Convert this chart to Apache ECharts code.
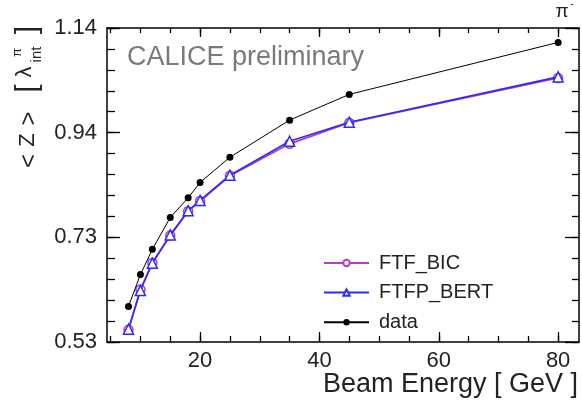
<!DOCTYPE html>
<html>
<head>
<meta charset="utf-8">
<script src="https://cdn.jsdelivr.net/npm/echarts@6/dist/echarts.min.js"></script>
<style>
  html, body { margin: 0; padding: 0; background: #fff; }
  #chart { width: 582px; height: 406px; }
</style>
</head>
<body>
<div id="chart"></div>
<script>
// beam energies [GeV]
const energies = [8, 10, 12, 15, 18, 20, 25, 35, 45, 80]
// mean shower start <Z> in units of lambda_int
const dataZ = [0.599, 0.661, 0.710, 0.772, 0.810, 0.840, 0.889, 0.961, 1.011, 1.112]
const ftfpBertZ = [0.555, 0.630, 0.683, 0.738, 0.785, 0.805, 0.854, 0.920, 0.957, 1.045]
const ftfBicZ = [0.554, 0.632, 0.684, 0.737, 0.784, 0.804, 0.853, 0.915, 0.956, 1.043]

const xMajor = [20, 40, 60, 80]
const xMinor = [5, 10, 15, 20, 25, 30, 35, 40, 45, 50, 55, 60, 65, 70, 75, 80]
const yMin = 0.53
const yMax = 1.14
const xMin = 4.4
const xMax = 83.5

const yStep = (yMax - yMin) / 3
const yMajor = [0, 1, 2, 3].map(i => yMin + i * yStep)
const yMinor = []
for (let i = 0; i <= 15; i++) yMinor.push(yMin + i * yStep / 5)

const font = 'Liberation Sans, Arial, Helvetica, sans-serif'
const chart = echarts.init(document.getElementById('chart'))

const pairs = arr => energies.map((e, i) => [e, arr[i]])

function xAxisDef (position, ticks, len, showLabel, showLine) {
  return {
    type: 'value', position: position, min: xMin, max: xMax,
    axisLine: { show: showLine, onZero: false, lineStyle: { color: '#000', width: 1.5 } },
    axisTick: { show: true, inside: true, length: len, customValues: ticks, lineStyle: { color: '#000', width: 1.3 } },
    axisLabel: {
      show: showLabel, customValues: xMajor, margin: 8,
      color: '#222', fontSize: 22, fontFamily: font
    },
    splitLine: { show: false }
  }
}

function yAxisDef (position, ticks, len, showLabel, showLine) {
  return {
    type: 'value', position: position, min: yMin, max: yMax,
    axisLine: { show: showLine, onZero: false, lineStyle: { color: '#000', width: 1.5 } },
    axisTick: { show: true, inside: true, length: len, customValues: ticks, lineStyle: { color: '#000', width: 1.3 } },
    axisLabel: {
      show: showLabel, customValues: yMajor, margin: 10,
      color: '#222', fontSize: 22, fontFamily: font,
      formatter: v => v.toFixed(2)
    },
    splitLine: { show: false }
  }
}

// rotated pieces of the y axis title
function vText (text, x, y, size) {
  return {
    type: 'text', x: x, y: y, rotation: Math.PI / 2,
    style: { text: text, fill: '#222', fontSize: size, fontFamily: font, align: 'center', verticalAlign: 'middle' }
  }
}

const option = {
  backgroundColor: '#fff',
  animation: false,
  grid: { left: 107, right: 3, top: 28, bottom: 64 },
  xAxis: [
    xAxisDef('bottom', xMajor, 10, true, true),
    xAxisDef('bottom', xMinor, 6, false, false),
    xAxisDef('top', xMajor, 9, false, true),
    xAxisDef('top', xMinor, 5, false, false)
  ],
  yAxis: [
    yAxisDef('left', yMajor, 13, true, true),
    yAxisDef('left', yMinor, 8, false, false),
    yAxisDef('right', yMajor, 14, false, true),
    yAxisDef('right', yMinor, 7, false, false)
  ],
  legend: {
    orient: 'vertical',
    left: 323,
    top: 253,
    padding: 0,
    itemWidth: 45,
    itemHeight: 8,
    itemGap: 9.6,
    textStyle: { fontSize: 20, lineHeight: 20, color: '#222', fontFamily: font, padding: [0, 0, 0, 5] },
    data: ['FTF_BIC', 'FTFP_BERT', 'data']
  },
  series: [
    {
      name: 'FTF_BIC', type: 'line', data: pairs(ftfBicZ),
      symbol: 'circle', symbolSize: 9,
      itemStyle: { color: '#fff', borderColor: '#b23cc4', borderWidth: 1.5 },
      lineStyle: { color: '#b23cc4', width: 1.8 },
      z: 2
    },
    {
      name: 'FTFP_BERT', type: 'line', data: pairs(ftfpBertZ),
      symbol: 'triangle', symbolSize: 10,
      itemStyle: { color: '#fff', borderColor: '#2b2bff', borderWidth: 1.5 },
      lineStyle: { color: '#2b2bff', width: 1.6 },
      z: 3
    },
    {
      name: 'data', type: 'line', data: pairs(dataZ),
      symbol: 'circle', symbolSize: 7,
      itemStyle: { color: '#000' },
      lineStyle: { color: '#000', width: 1 },
      z: 4
    }
  ],
  graphic: [
    {
      type: 'text', left: 127, top: 44,
      style: { text: 'CALICE preliminary', fill: '#7a7a7a', fontSize: 27, fontFamily: font }
    },
    {
      type: 'text', x: 578, y: 385,
      style: { text: 'Beam Energy [ GeV ]', fill: '#222', fontSize: 27, fontFamily: font, align: 'right', verticalAlign: 'middle' }
    },
    {
      type: 'text', x: 562, y: 12,
      style: { text: 'π', fill: '#222', fontSize: 19, fontFamily: font, align: 'center', verticalAlign: 'middle' }
    },
    {
      type: 'text', x: 572, y: 4,
      style: { text: '-', fill: '#222', fontSize: 10, fontFamily: font, align: 'center', verticalAlign: 'middle' }
    },
    vText('<', 29, 161, 24),
    vText('Z', 28, 140, 22),
    vText('>', 29, 118.5, 24),
    vText('[', 28, 88.5, 30),
    vText('λ', 25, 72, 22),
    vText('int', 37, 54.5, 15),
    vText('π', 17, 52.5, 13),
    vText(']', 28, 30, 30)
  ]
}

chart.setOption(option)
</script>
</body>
</html>
